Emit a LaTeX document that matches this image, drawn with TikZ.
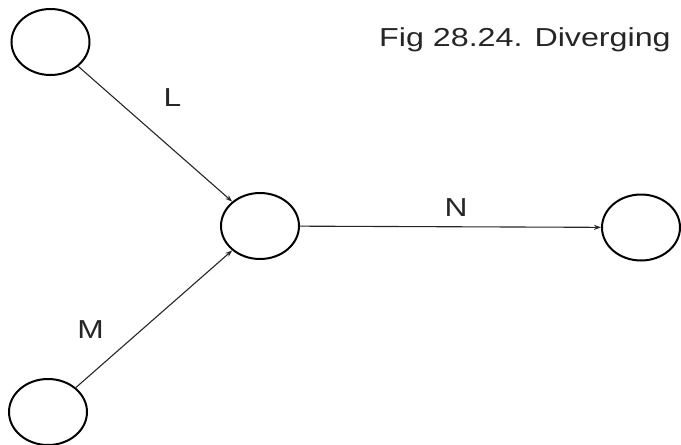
\documentclass[tikz,border=0pt]{standalone}
\usepackage{fontspec}
\setmainfont{Liberation Sans}
\usetikzlibrary{shapes.geometric,arrows.meta}
\tikzset{
  evt/.style={ellipse, draw=black, line width=2pt, minimum width=78pt, minimum height=66pt, inner sep=0pt},
  act/.style={draw=black!85, line width=1.1pt, -{Stealth[length=7pt,width=5pt]}},
  lbl/.style={inner sep=0pt, text=black!85, font=\fontsize{26}{30}\selectfont}
}
\begin{document}
\begin{tikzpicture}[x=1pt,y=-1pt]
\useasboundingbox (0,0) rectangle (681,445);
\node[evt] (a) at (50.5,42) {};
\node[evt] (c) at (260,226) {};
\node[evt] (r) at (641,227.5) {};
\node[evt] (b) at (48,412) {};
\draw[act] (a) -- (c);
\draw[act] (b) -- (c);
\draw[act] (c) -- (r);
\node[lbl] (l) at (172.5,97.5) {\scalebox{1.22}[1]{L}};
\node[lbl] (n) at (456,207.5) {\scalebox{1.22}[1]{N}};
\node[lbl] (m) at (90.5,330) {\scalebox{1.22}[1]{M}};
\node[lbl, anchor=base west] (t) at (379,46) {\scalebox{1.24}[1]{Fig 28.24. Diverging}};
\end{tikzpicture}
\end{document}
